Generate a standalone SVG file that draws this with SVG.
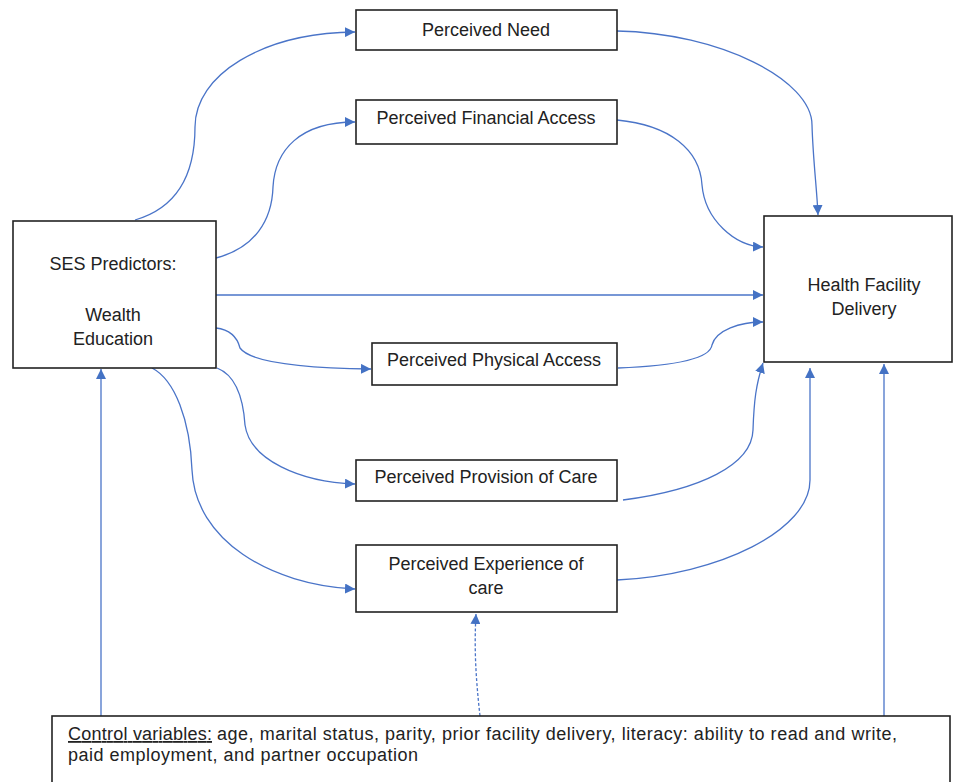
<svg xmlns="http://www.w3.org/2000/svg" width="954" height="782" viewBox="0 0 954 782">
<style>
.box{fill:#fff;stroke:#222;stroke-width:1.6}
.t{font-family:"Liberation Sans",Arial,sans-serif;font-size:18px;fill:#222}
.c{text-anchor:middle}
.ln{fill:none;stroke:#4a74c8;stroke-width:1.3}
.dash{stroke-dasharray:3 2}
</style>
<defs>
<marker id="ah" markerUnits="userSpaceOnUse" markerWidth="12" markerHeight="10" refX="10" refY="5" orient="auto">
<path d="M0,0 L10,5 L0,10 Z" fill="#4472c4"/>
</marker>
</defs>
<g id="connectors">
<path class="ln" marker-end="url(#ah)" d="M135,220 C180,207 195,170 195,127 C195,75 262,33 355,32"/>
<path class="ln" marker-end="url(#ah)" d="M216,258 C255,248 272,220 273,187 C275,150 300,122 355,122"/>
<path class="ln" marker-end="url(#ah)" d="M617,31 C720,33 812,80 812,125 C813,160 817,190 818,215"/>
<path class="ln" marker-end="url(#ah)" d="M617,120 C670,125 700,150 702,185 C705,220 735,246 763,247"/>
<path class="ln" marker-end="url(#ah)" d="M216,295 L763,295"/>
<path class="ln" marker-end="url(#ah)" d="M216,328 C232,330 238,340 240,348 C250,362 300,368 371,369"/>
<path class="ln" marker-end="url(#ah)" d="M618,368 C670,366 710,360 712,345 C716,330 740,322 763,322"/>
<path class="ln" marker-end="url(#ah)" d="M152,368 C175,380 190,420 192,470 C195,540 270,585 355,589"/>
<path class="ln" marker-end="url(#ah)" d="M217,368 C235,375 243,395 245,425 C250,460 300,482 355,484"/>
<path class="ln" marker-end="url(#ah)" d="M623,500 C700,490 752,465 753,430 C754,400 756,385 763,363"/>
<path class="ln" marker-end="url(#ah)" d="M617,580 C720,575 810,530 810,480 L810,368"/>
<path class="ln" marker-end="url(#ah)" d="M101,716 L101,369"/>
<path class="ln" marker-end="url(#ah)" d="M884,716 L884,364"/>
<path class="ln dash" marker-end="url(#ah)" d="M480,716 C476,680 474,650 476,614"/>
</g>
<g id="need"><rect class="box" x="356" y="10" width="261" height="40"/><text class="t c" x="486" y="36">Perceived Need</text></g>
<g id="financial"><rect class="box" x="356" y="100" width="261" height="44"/><text class="t c" x="486" y="124">Perceived Financial Access</text></g>
<g id="ses"><rect class="box" x="13" y="221" width="203" height="147"/>
<text class="t c" x="113" y="270">SES Predictors:</text>
<text class="t c" x="113" y="321">Wealth</text>
<text class="t c" x="113" y="345">Education</text></g>
<g id="hfd"><rect class="box" x="764" y="216" width="188" height="146"/>
<text class="t c" x="864" y="291">Health Facility</text>
<text class="t c" x="864" y="315">Delivery</text></g>
<g id="physical"><rect class="box" x="372" y="343" width="245" height="42"/><text class="t c" x="494" y="366">Perceived Physical Access</text></g>
<g id="provision"><rect class="box" x="356" y="460" width="261" height="41"/><text class="t c" x="486" y="483">Perceived Provision of Care</text></g>
<g id="experience"><rect class="box" x="356" y="545" width="261" height="67"/>
<text class="t c" x="486" y="570">Perceived Experience of</text>
<text class="t c" x="486" y="594">care</text></g>
<g id="controls"><rect class="box" x="52" y="716" width="898" height="70"/>
<text class="t" x="68" y="740" text-decoration="underline" textLength="144">Control variables:</text>
<text class="t" x="217" y="740" textLength="680">age, marital status, parity, prior facility delivery, literacy: ability to read and write,</text>
<text class="t" x="68" y="761" textLength="350">paid employment, and partner occupation</text></g>
</svg>
